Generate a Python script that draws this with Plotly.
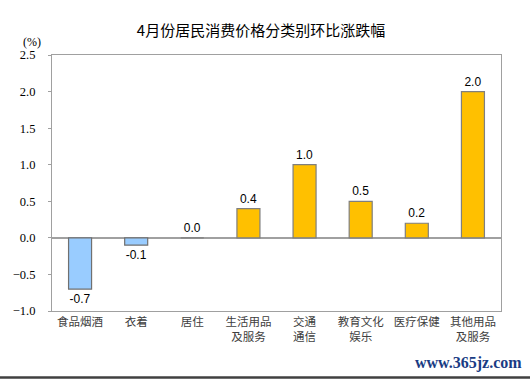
import plotly.graph_objects as go

categories = ["食品烟酒", "衣着", "居住", "生活用品<br>及服务", "交通<br>通信",
              "教育文化<br>娱乐", "医疗保健", "其他用品<br>及服务"]
values = [-0.7, -0.1, 0.0, 0.4, 1.0, 0.5, 0.2, 2.0]
title_text = "4月份居民消费价格分类别环比涨跌幅"
y_ticks = [-1.0, -0.5, 0.0, 0.5, 1.0, 1.5, 2.0, 2.5]

W, H = 530, 379
L, R, T, B = 52, 29, 55, 68
pw, ph = W - L - R, H - T - B

colors = ["#99CCFF" if v < 0 else "#FFC000" for v in values]
lines = ["#707070" if v < 0 else "#7F7F7F" for v in values]

fig = go.Figure(go.Bar(
    x=categories, y=values,
    marker=dict(color=colors, line=dict(color=lines, width=1.2)),
    width=0.41,
    text=[f"{v:.1f}" for v in values],
    textposition="outside",
    cliponaxis=False,
    textfont=dict(family="Liberation Sans, Arial", size=12, color="#000000"),
))

fig.update_layout(
    width=W, height=H,
    margin=dict(l=L, r=R, t=T, b=B, autoexpand=False),
    paper_bgcolor="#FFFFFF", plot_bgcolor="#FFFFFF",
    showlegend=False,
    title=dict(text=title_text, x=261 / W, xanchor="center",
               y=1 - 31 / H, yanchor="middle", yref="container",
               font=dict(family="Noto Sans CJK SC", size=15, color="#000000")),
    xaxis=dict(showline=True, mirror=True, linecolor="#A0A0A0", linewidth=1.2,
               ticks="", showgrid=False, automargin=False,
               tickfont=dict(family="Noto Sans CJK SC", size=11.5, color="#404040")),
    yaxis=dict(range=[-1.0, 2.5], tickvals=y_ticks, tickformat=".1f",
               showline=True, mirror=True, linecolor="#A0A0A0", linewidth=1.2,
               ticks="outside", ticklen=3, tickcolor="#A0A0A0", automargin=False,
               showgrid=False, zeroline=True, zerolinecolor="#A0A0A0", zerolinewidth=1.5,
               tickfont=dict(family="Liberation Serif", size=12.5, color="#000000"),
               ticklabelstandoff=10),
)

fig.add_annotation(text="(%)", xref="paper", yref="paper",
                   x=(21 - L) / pw, y=(T + ph - 42) / ph, xanchor="left", yanchor="middle",
                   showarrow=False,
                   font=dict(family="Liberation Serif", size=12, color="#000000"))

fig.add_annotation(text="<b>www.365jz.com</b>", xref="paper", yref="paper",
                   x=(524 - L) / pw, y=(T + ph - 363) / ph, xanchor="right", yanchor="middle",
                   showarrow=False,
                   font=dict(family="Liberation Serif", size=16, color="#1A3C84"))

fig.add_shape(type="line", xref="paper", yref="paper",
              x0=-L / pw, x1=(W - L) / pw,
              y0=(T + ph - 377.5) / ph, y1=(T + ph - 377.5) / ph,
              line=dict(color="#404040", width=2.5))

fig.write_html("out.html", config={"displayModeBar": False},
               post_script="document.body.style.margin='0';document.body.style.overflow='hidden';")
